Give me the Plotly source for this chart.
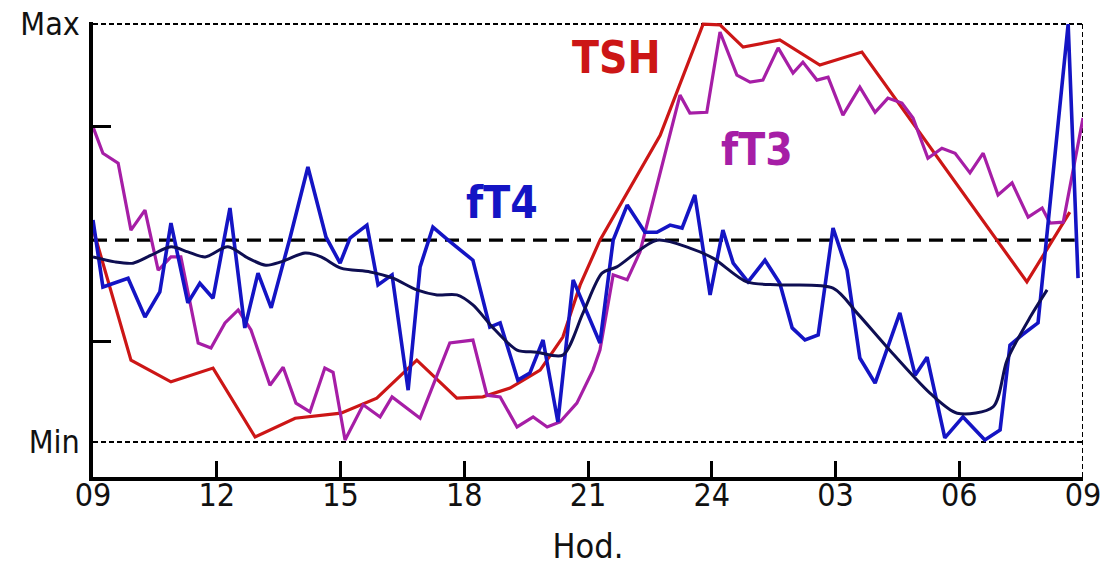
import plotly.graph_objects as go

# Hours after 09:00 (0 = 09:00, 24 = 09:00 next day); values on a Min(0)–Max(100) scale
tsh_h = [0, 0.92, 1.89, 2.91, 3.93, 4.90, 6.01, 6.88, 7.85, 8.82, 9.45, 10.11, 10.84, 11.39,
         11.81, 12.29, 13.75, 14.79, 15.20, 15.76, 16.65, 17.62, 18.64, 22.64, 23.68]
tsh_v = [51, 19.6, 14.4, 17.7, 1.2, 5.7, 6.9, 10.5, 19.6, 10.5, 10.8, 12.9, 17.2, 25.1,
         37.6, 48.3, 73.4, 100, 99.8, 94.5, 96.2, 90.2, 93.3, 38.3, 55.0]

ft3_h = [0, 0.24, 0.61, 0.92, 1.26, 1.58, 1.89, 2.13, 2.55, 2.86, 3.20, 3.52, 3.83, 4.29, 4.61,
         4.92, 5.26, 5.62, 5.82, 6.11, 6.55, 6.96, 7.25, 7.93, 8.65, 9.21, 9.55, 9.87, 10.28,
         10.67, 11.01, 11.32, 11.73, 12.12, 12.29, 12.61, 12.95, 13.26, 14.23, 14.47, 14.88,
         15.20, 15.61, 15.93, 16.24, 16.61, 16.97, 17.21, 17.55, 17.82, 18.18, 18.59, 18.96,
         19.27, 19.61, 19.88, 20.24, 20.58, 20.90, 21.26, 21.58, 21.94, 22.28, 22.67, 23.01,
         23.20, 23.52, 24.0]
ft3_v = [75.4, 69.1, 66.7, 50.7, 55.5, 41.1, 44.3, 44.3, 23.7, 22.5, 28.5, 31.6, 26.8, 13.6, 17.9,
         9.3, 7.2, 17.7, 16.7, 0.5, 8.9, 6.0, 10.8, 5.7, 23.7, 24.4, 11.2, 10.8, 3.6,
         6.0, 3.6, 4.8, 9.3, 17.2, 22.0, 40.0, 38.8, 45.5, 83.0, 78.7, 78.9,
         98.1, 87.8, 86.1, 86.6, 94.3, 88.3, 90.9, 86.6, 87.3, 78.2, 84.9, 78.9,
         82.3, 81.1, 77.5, 67.9, 70.3, 69.1, 64.4, 69.1, 59.1, 62.0, 53.8, 56.0,
         52.4, 52.6, 77.5]

ft4_h = [0, 0.24, 0.85, 1.26, 1.62, 1.89, 2.30, 2.59, 2.91, 3.32, 3.68, 4.00, 4.32, 4.78, 5.21,
         5.65, 5.99, 6.23, 6.64, 6.91, 7.25, 7.64, 7.93, 8.24, 8.61, 9.21, 9.62, 9.87, 10.30,
         10.59, 10.91, 11.27, 11.64, 12.29, 12.61, 12.95, 13.38, 13.67, 13.99, 14.28, 14.59,
         14.96, 15.27, 15.52, 15.88, 16.29, 16.65, 16.95, 17.26, 17.58, 17.94, 18.28, 18.59,
         18.96, 19.56, 19.93, 20.22, 20.65, 21.09, 21.62, 21.99, 22.23, 22.52, 22.91, 23.64,
         23.88]
ft4_v = [53.1, 37.1, 39.2, 29.9, 35.9, 52.4, 33.3, 38.0, 34.4, 56.0, 27.3, 40.4, 32.1, 49.0, 65.8,
         49.0, 42.8, 48.8, 51.9, 37.6, 40.0, 12.4, 41.9, 51.4, 48.3, 43.5, 27.5, 28.5, 14.8,
         16.5, 24.4, 4.8, 38.8, 23.7, 48.3, 56.7, 50.2, 50.2, 51.9, 51.2, 59.1,
         35.2, 50.7, 42.8, 38.3, 43.5, 38.0, 27.3, 24.4, 25.6, 51.2, 41.1, 20.1,
         14.1, 30.9, 16.0, 20.3, 1.0, 6.0, 0.5, 2.9, 23.2, 25.6, 28.5, 100,
         39.2]

ft4s_h = [0, 0.53, 0.97, 1.41, 1.89, 2.30, 2.72, 3.27, 3.76, 4.19, 4.56, 5.14, 5.53, 6.01, 6.72,
          7.27, 7.85, 8.34, 8.82, 9.21, 9.70, 10.28, 10.76, 11.39, 11.88, 12.34, 12.70, 13.67,
          14.47, 15.03, 15.85, 16.65, 17.94, 18.52, 19.25, 20.29, 20.95, 21.82, 22.16, 22.72,
          23.13]
ft4s_v = [44.3, 43.1, 42.8, 44.7, 46.7, 45.5, 44.3, 46.7, 44.0, 42.3, 43.1, 45.2, 44.3, 41.6, 40.7,
          39.2, 36.4, 35.2, 35.2, 32.8, 27.3, 22.0, 21.5, 20.8, 30.9, 40.4, 41.9, 48.3,
          46.4, 44.0, 38.3, 37.6, 36.8, 30.9, 22.7, 11.7, 6.9, 8.4, 19.6, 29.9,
          36.4]

x_ticks = [0, 3, 6, 9, 12, 15, 18, 21, 24]
x_labels = ["09", "12", "15", "18", "21", "24", "03", "06", "09"]
ref_level = 48.3

RED = "#cc1616"
PURPLE = "#a61ea6"
BLUE = "#1414c4"
NAVY = "#0e0e52"
FONT = "Liberation Sans Narrow, DejaVu Sans Condensed, Roboto Condensed, Roboto, sans-serif"

fig = go.Figure()
fig.add_trace(go.Scatter(x=tsh_h, y=tsh_v, mode="lines", line=dict(color=RED, width=3.2)))
fig.add_trace(go.Scatter(x=ft3_h, y=ft3_v, mode="lines", line=dict(color=PURPLE, width=3.2)))
fig.add_trace(go.Scatter(x=ft4_h, y=ft4_v, mode="lines", line=dict(color=BLUE, width=3.6)))
fig.add_trace(go.Scatter(x=ft4s_h, y=ft4s_v, mode="lines",
                         line=dict(color=NAVY, width=3, shape="spline", smoothing=0.8)))

# reference lines
fig.add_shape(type="line", xref="x", yref="y", x0=0, x1=23.8, y0=ref_level, y1=ref_level,
              line=dict(color="black", width=3.2, dash="14px,8px"), layer="below")
for yv in (0, 100):
    fig.add_shape(type="line", xref="x", yref="y", x0=0, x1=24, y0=yv, y1=yv,
                  line=dict(color="black", width=2, dash="5px,3px"), layer="below")
fig.add_shape(type="line", xref="x", yref="paper", x0=24, x1=24, y0=0, y1=(100 + 8.37) / 108.87,
              line=dict(color="black", width=2, dash="5px,3px"), layer="below")

# series labels
for txt, xx, yy, col in [("TSH", 12.68, 92.1, RED), ("fT3", 16.1, 70.1, PURPLE), ("fT4", 9.92, 57.4, BLUE)]:
    fig.add_annotation(x=xx, y=yy, text="<b>%s</b>" % txt, showarrow=False,
                       font=dict(family=FONT, size=44, color=col))

fig.update_layout(
    width=1112, height=566,
    margin=dict(l=93, r=29, t=22, b=89),
    plot_bgcolor="white", paper_bgcolor="white",
    showlegend=False,
    font=dict(family=FONT, color="#111111"),
    xaxis=dict(range=[0, 24], tickmode="array", tickvals=x_ticks, ticktext=x_labels,
               ticks="inside", ticklen=16, tickwidth=3, tickcolor="black", automargin=False,
               showline=True, linewidth=3.5, linecolor="black", showgrid=False, zeroline=False,
               tickfont=dict(family=FONT, size=32, color="#111111"), ticklabelstandoff=-13,
               ticklabeloverflow="allow",
               title=dict(text="Hod.", font=dict(family=FONT, size=34, color="#111111"), standoff=23)),
    yaxis=dict(range=[-8.37, 100.5], tickmode="array", tickvals=[0, 100], ticktext=["Min", "Max"],
               ticks="", showline=True, linewidth=3.5, linecolor="black", showgrid=False,
               zeroline=False, ticklabelstandoff=3, automargin=False, ticklabeloverflow="allow",
               tickfont=dict(family=FONT, size=32, color="#111111"),
               minor=dict(tickmode="array", tickvals=[24, 75.4], ticks="inside", ticklen=18,
                          tickwidth=3, tickcolor="black", showgrid=False)),
)

# remove the default 8px page margin so the figure sits at the window's corner
fig.write_html("out.html", post_script="document.body.style.margin='0';",
               config={"displayModeBar": False})
